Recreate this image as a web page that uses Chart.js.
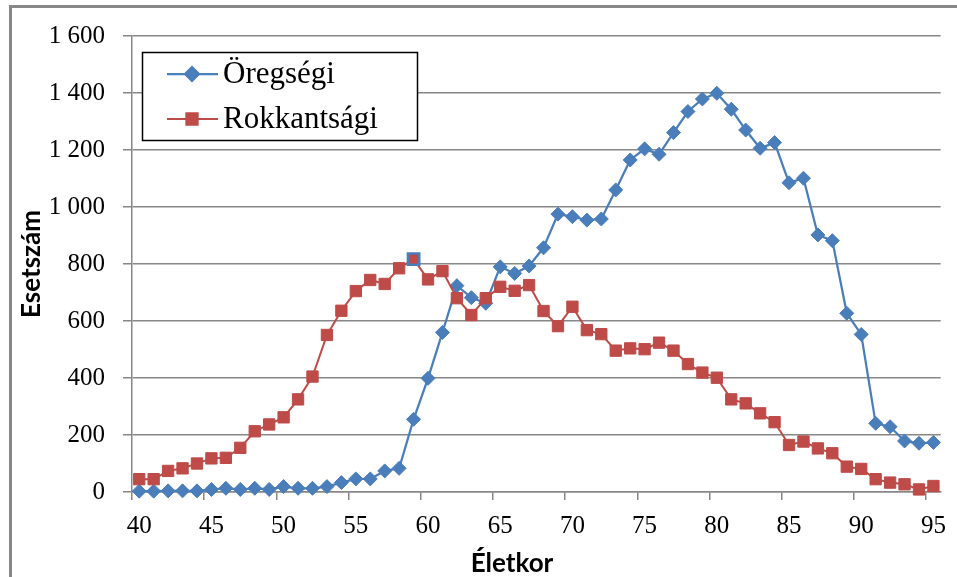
<!DOCTYPE html>
<html lang="hu">
<head>
<meta charset="UTF-8">
<title>Öregségi és rokkantsági esetszám életkor szerint</title>
<script src="https://cdn.jsdelivr.net/npm/chart.js"></script>
<style>
    body { margin: 0; background: #fff; }
    .wrap { position: relative; width: 957px; height: 577px; overflow: hidden; }
    .frame {
        position: absolute; left: 9px; top: 5px; width: 1200px; height: 1200px;
        border-left: 3px solid #878787; border-top: 3px solid #878787;
    }
    canvas { position: absolute; left: 0; top: 0; }
</style>
</head>
<body>
<div class="wrap">
    <div class="frame"></div>
    <canvas id="chart" width="957" height="577"></canvas>
</div>
<script>
    // Életkor (x categories)
    const ages = [40, 41, 42, 43, 44, 45, 46, 47, 48, 49,
                  50, 51, 52, 53, 54, 55, 56, 57, 58, 59,
                  60, 61, 62, 63, 64, 65, 66, 67, 68, 69,
                  70, 71, 72, 73, 74, 75, 76, 77, 78, 79,
                  80, 81, 82, 83, 84, 85, 86, 87, 88, 89,
                  90, 91, 92, 93, 94, 95];

    const oregsegi = [3, 3, 4, 4, 4, 9, 13, 9, 13, 9,
                      19, 13, 13, 19, 33, 46, 46, 74, 83, 255,
                      399, 560, 724, 682, 662, 790, 767, 793, 857, 975,
                      966, 954, 958, 1060, 1165, 1204, 1185, 1261, 1335, 1379,
                      1399, 1343, 1270, 1206, 1226, 1085, 1101, 902, 882, 627,
                      553, 241, 229, 179, 171, 174];

    const rokkantsagi = [45, 45, 74, 83, 100, 118, 120, 155, 213, 237,
                         262, 325, 405, 551, 636, 705, 744, 730, 785, 817,
                         746, 775, 680, 621, 680, 720, 706, 726, 635, 582,
                         650, 568, 554, 496, 504, 501, 524, 496, 449, 419,
                         401, 325, 311, 276, 245, 165, 177, 153, 136, 89,
                         81, 45, 33, 27, 9, 21];

    const blue = '#4a7ebb';
    const red = '#be4b48';
    const gridColor = '#878787';
    const serif = '"Liberation Serif", "Times New Roman", serif';

    function fmt(v) {
        if (v >= 1000) return Math.floor(v / 1000) + ' ' + String(v % 1000).padStart(3, '0');
        return String(v);
    }

    // legend box + x title, drawn on top of the chart
    const decor = {
        id: 'decor',
        afterDraw(chart) {
            const ctx = chart.ctx;
            ctx.save();
            ctx.fillStyle = '#fff';
            ctx.fillRect(142, 52, 276, 89);
            ctx.strokeStyle = '#000';
            ctx.lineWidth = 1.5;
            ctx.strokeRect(142.5, 52.5, 275, 88);

            chart.data.datasets.forEach((ds, i) => {
                const y = 74 + i * 45;
                ctx.strokeStyle = ds.borderColor;
                ctx.lineWidth = ds.borderWidth;
                ctx.beginPath();
                ctx.moveTo(167, y);
                ctx.lineTo(218, y);
                ctx.stroke();
                ctx.fillStyle = ds.borderColor;
                ctx.strokeStyle = ds.borderColor;
                Chart.helpers.drawPoint(ctx, {
                    pointStyle: ds.pointStyle, radius: ds.pointRadius, borderWidth: 1, rotation: 0
                }, 192, y);
                ctx.fillStyle = '#000';
                ctx.font = '31px ' + serif;
                ctx.textAlign = 'left';
                ctx.textBaseline = 'alphabetic';
                ctx.fillText(ds.label, 223, y + 9);
            });

            ctx.fillStyle = '#000';
            ctx.font = 'bold 26px Lato';
            ctx.textAlign = 'center';
            ctx.textBaseline = 'alphabetic';
            ctx.fillText('Életkor', 512, 572);
            ctx.restore();
        }
    };

    new Chart(document.getElementById('chart'), {
        type: 'line',
        data: {
            labels: ages,
            datasets: [
                {
                    label: 'Öregségi',
                    data: oregsegi,
                    borderColor: blue,
                    backgroundColor: blue,
                    pointBackgroundColor: blue,
                    pointBorderColor: blue,
                    pointBorderWidth: 1,
                    pointStyle: 'rectRot',
                    pointRadius: 7,
                    borderWidth: 2.25,
                    tension: 0,
                    clip: false,
                    order: 1
                },
                {
                    label: 'Rokkantsági',
                    data: rokkantsagi,
                    borderColor: red,
                    backgroundColor: red,
                    pointBackgroundColor: red,
                    // the 59 point has a blue outline in the original
                    pointBorderColor: c => c.dataIndex === 19 ? blue : red,
                    pointBorderWidth: c => c.dataIndex === 19 ? 2.5 : 1,
                    pointStyle: 'rect',
                    pointRadius: 8,
                    borderWidth: 2,
                    tension: 0,
                    clip: false,
                    order: 0
                }
            ]
        },
        options: {
            responsive: false,
            animation: false,
            layout: { padding: { top: 36, right: 9, left: 0, bottom: 0 } },
            plugins: {
                legend: { display: false },
                tooltip: { enabled: false }
            },
            scales: {
                x: {
                    offset: true,
                    grid: {
                        offset: true,
                        drawOnChartArea: false,
                        tickLength: 8,
                        lineWidth: 1.5,
                        color: c => c.index % 5 === 0 ? gridColor : 'rgba(0,0,0,0)'
                    },
                    border: { color: gridColor, width: 1.5 },
                    ticks: {
                        autoSkip: false,
                        maxRotation: 0,
                        padding: 11,
                        color: '#000',
                        font: { family: serif, size: 25 },
                        callback: function (v) {
                            const l = this.getLabelForValue(v);
                            return l % 5 === 0 ? String(l) : '';
                        }
                    },
                    afterFit: s => { s.height = 85; }
                },
                y: {
                    min: 0,
                    max: 1600,
                    grid: { color: gridColor, lineWidth: 1.5, tickLength: 9 },
                    border: { color: gridColor, width: 1.5 },
                    ticks: {
                        stepSize: 200,
                        padding: 18,
                        color: '#000',
                        font: { family: serif, size: 25 },
                        callback: v => fmt(v)
                    },
                    title: {
                        display: true,
                        text: 'Esetszám',
                        color: '#000',
                        font: { family: 'Lato', weight: 'bold', size: 26 },
                        padding: { top: 16, bottom: 0 }
                    },
                    afterFit: s => { s.width = 132; }
                }
            }
        },
        plugins: [decor]
    });
</script>
</body>
</html>
